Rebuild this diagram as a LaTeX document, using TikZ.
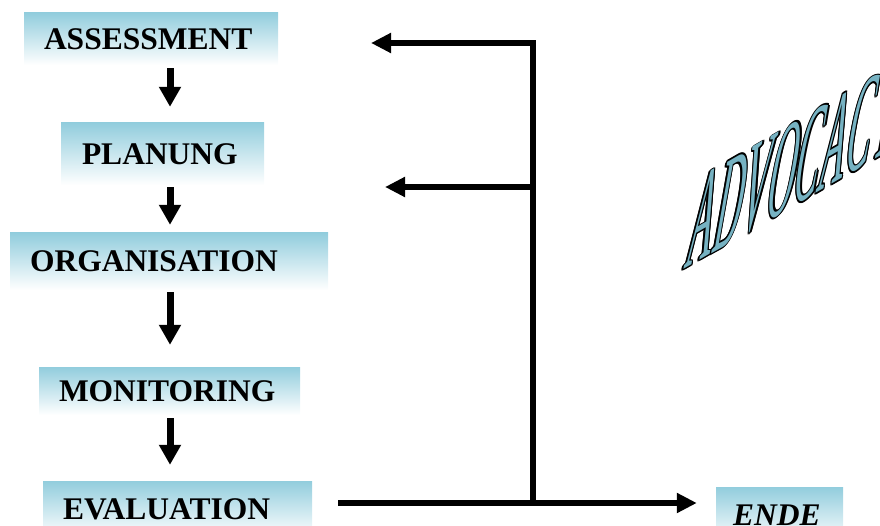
\documentclass[tikz,border=0pt]{standalone}
\usepackage{fontspec}
\setmainfont{Liberation Serif}
\usetikzlibrary{arrows.meta}
\definecolor{boxteal}{RGB}{146,205,221}
\definecolor{wordteal}{RGB}{118,178,194}
\tikzset{
  stepbox/.style={top color=boxteal, bottom color=white, draw=none, inner xsep=20pt, inner ysep=0pt, align=left, font=\fontsize{31.5}{34}\selectfont\bfseries},
  flow/.style={line width=7pt, -{Triangle[width=21pt,length=20pt]}},
  feed/.style={line width=6pt, -{Triangle[width=19pt,length=20pt]}},
  wordart/.style={inner sep=0pt, anchor=base west, font=\fontsize{43}{43}\selectfont}
}
\begin{document}
\begin{tikzpicture}[x=1pt, y=1pt]
\useasboundingbox (0,0) rectangle (880,-526);
\node[stepbox, text width=214pt, minimum height=52pt] (assess) at (151,-39) {ASSESSMENT};
\node[stepbox, text width=161pt, inner xsep=21pt, minimum height=62pt] (plan) at (162.5,-154) {PLANUNG};
\node[stepbox, text width=278pt, minimum height=57pt] (org) at (169,-261.5) {ORGANISATION};
\node[stepbox, text width=221pt, minimum height=48pt] (mon) at (169.5,-391) {MONITORING};
\node[stepbox, text width=229pt, minimum height=56pt] (eval) at (177.5,-509) {EVALUATION};
\node[stepbox, text width=93pt, inner xsep=17pt, minimum height=56pt] (ende) at (779.5,-515) {\itshape ENDE};
\coordinate (flowx) at (170,0);
\draw[flow, shorten <=3pt, shorten >=16pt] (flowx |- assess.south) -- (flowx |- plan.north);
\draw[flow, shorten <=2pt, shorten >=8pt] (flowx |- plan.south) -- (flowx |- org.north);
\draw[flow, shorten <=2pt, shorten >=22pt] (flowx |- org.south) -- (flowx |- mon.north);
\draw[flow, shorten <=3pt, shorten >=16pt] (flowx |- mon.south) -- (flowx |- eval.north);
\coordinate (jtop) at (533,-43);
\coordinate (jmid) at (533,-187);
\coordinate (jbot) at (533,-503);
\coordinate (back1) at (371,-43);
\coordinate (back2) at (385,-187);
\draw[feed] (jbot) -- (jtop) -- (back1);
\draw[feed] (jmid) -- (back2);
\draw[feed, shorten <=26pt, shorten >=19pt] (eval.east |- jbot) -- (ende.west |- jbot);
\begin{scope}[cm={0.866,0.5,0.574,3.25,(683pt,-270pt)}, transform shape]
\foreach \dx/\dy [count=\i] in {-1.6/0, 1.6/0, 0/-0.5, 0/0.5, -1.2/-0.38, 1.2/-0.38, -1.2/0.38, 1.2/0.38}
  \node[wordart, text=black] (rim\i) at (\dx,\dy) {ADVOCACY};
\node[wordart, text=wordteal] (advocacy) at (0,0) {ADVOCACY};
\end{scope}
\end{tikzpicture}
\end{document}
